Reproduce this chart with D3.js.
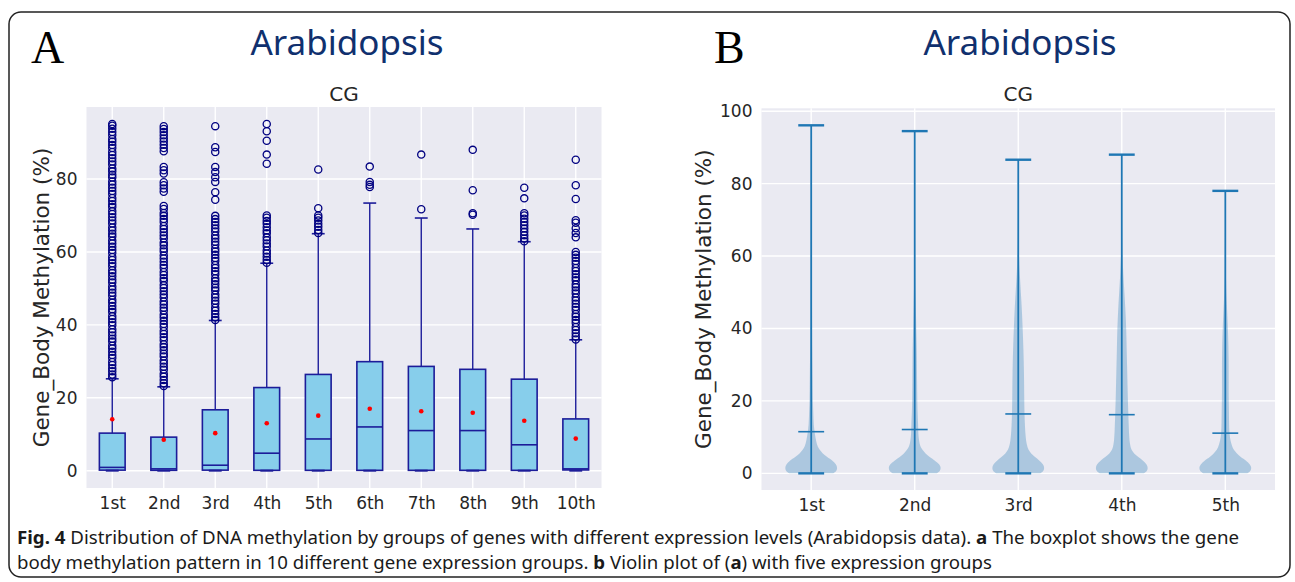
<!DOCTYPE html>
<html>
<head>
<meta charset="utf-8">
<script src="https://cdn.jsdelivr.net/npm/d3@7"></script>
<style>
  body { margin: 0; background: #fff; }
  svg { display: block; }
</style>
</head>
<body>
<div id="chart"></div>
<script>
// panel A: boxplot, 10 expression groups
const boxGroups = ["1st", "2nd", "3rd", "4th", "5th", "6th", "7th", "8th", "9th", "10th"];
const boxLow = [0, 0, 0, 0, 0, 0, 0, 0, 0, 0];
const boxQ1 = [0.15, 0.1, 0.15, 0.1, 0.1, 0.1, 0.1, 0.1, 0.1, 0.2];
const boxMedian = [0.9, 0.5, 1.5, 4.8, 8.7, 12.0, 11.0, 11.0, 7.1, 0.5];
const boxQ3 = [10.3, 9.2, 16.7, 22.8, 26.4, 29.9, 28.6, 27.8, 25.1, 14.2];
const boxHigh = [25.2, 23.0, 41.2, 56.9, 65.0, 73.4, 69.3, 66.3, 62.8, 35.9];
const boxMean = [14.1, 8.5, 10.3, 13.0, 15.1, 17.0, 16.3, 15.9, 13.7, 8.8];
const boxOutliers = [
  [25.6, 26.4, 27.3, 28.1, 29.0, 29.8, 30.9, 31.7, 32.6, 33.5, 34.3, 35.4, 36.2, 37.1, 38.0, 38.8,
   39.9, 40.7, 41.6, 42.4, 43.5, 44.3, 45.2, 46.1, 46.9, 48.0, 48.8, 49.7, 50.5, 51.6, 52.4, 53.3,
   54.2, 55.0, 56.1, 56.9, 57.8, 58.6, 59.7, 60.5, 61.4, 62.3, 63.1, 64.2, 65.0, 65.9, 66.7, 67.8,
   68.6, 69.5, 70.4, 71.2, 72.3, 73.1, 74.0, 74.8, 75.9, 76.7, 77.6, 78.5, 79.3, 80.4, 81.2, 82.1,
   82.9, 84.0, 84.8, 85.7, 86.6, 87.4, 88.5, 89.3, 90.2, 91.0, 92.1, 92.9, 93.8, 94.6, 95.1],
  [23.2, 24.0, 24.9, 25.8, 26.6, 27.7, 28.5, 29.4, 30.2, 31.3, 32.1, 33.0, 33.9, 34.7, 35.8, 36.6,
   37.5, 38.3, 39.4, 40.2, 41.1, 42.0, 42.8, 43.9, 44.7, 45.6, 46.4, 47.5, 48.3, 49.2, 50.1, 50.9,
   52.0, 52.8, 53.7, 54.5, 55.6, 56.4, 57.3, 58.2, 59.0, 60.1, 60.9, 61.8, 62.6, 63.7, 64.5, 65.4,
   66.3, 67.1, 68.2, 69.0, 69.9, 70.7, 71.8, 72.6, 76.5, 77.4, 78.3, 79.1, 81.5, 82.4, 83.3,
   87.6, 88.5, 89.4, 90.3, 91.1, 92.0, 92.9, 93.7, 94.5],
  [41.3, 42.1, 43.0, 43.9, 44.7, 45.8, 46.6, 47.5, 48.3, 49.4, 50.2, 51.1, 52.0, 52.8, 53.9, 54.7,
   55.6, 56.4, 57.5, 58.3, 59.2, 60.1, 60.9, 62.0, 62.8, 63.7, 64.5, 65.6, 66.4, 67.3, 68.2, 69.0,
   69.9, 74.3, 76.4, 79.2, 80.5, 81.9, 83.3, 87.4, 88.7, 94.5],
  [57.0, 57.8, 58.7, 59.6, 60.4, 61.5, 62.3, 63.2, 64.0, 65.1, 65.9, 66.8, 67.7, 68.5, 69.4, 70.0,
   84.2, 86.7, 90.5, 93.1, 95.1],
  [65.2, 66.0, 66.9, 67.7, 68.6, 69.4, 70.0, 72.0, 82.6],
  [77.8, 78.4, 79.2, 83.4],
  [71.7, 86.7],
  [70.2, 70.6, 76.9, 88.0],
  [62.9, 63.7, 64.6, 65.5, 66.4, 67.3, 68.2, 69.1, 70.0, 70.6, 74.7, 77.6],
  [36.0, 36.8, 37.7, 38.6, 39.4, 40.5, 41.3, 42.2, 43.0, 44.1, 44.9, 45.8, 46.7, 47.5, 48.6, 49.4,
   50.3, 51.1, 52.2, 53.0, 53.9, 54.8, 55.6, 56.7, 57.5, 58.4, 59.2, 60.0, 64.0, 65.2, 66.5, 68.0,
   68.7, 74.5, 78.3, 85.3]
];
const boxTicks = [0, 20, 40, 60, 80];

// panel B: violin plot, 5 expression groups
const violinGroups = ["1st", "2nd", "3rd", "4th", "5th"];
const violinMin = [0, 0, 0, 0, 0];
const violinMax = [96.1, 94.5, 86.6, 88.0, 78.0];
const violinMean = [11.5, 12.1, 16.4, 16.2, 11.1];
// [value, relative density]
const violinDensity = [
  [[0, 0.85], [0.7, 0.97], [1.5, 1.0], [2.5, 0.95], [3.5, 0.82], [4.5, 0.62], [5.5, 0.45], [6.5, 0.33],
   [7.5, 0.25], [9, 0.19], [11, 0.14], [13.5, 0.1], [17, 0.08], [20, 0.065], [26, 0.055], [35, 0.04],
   [50, 0.03], [70, 0.02], [90, 0.012], [96.1, 0.008]],
  [[0, 0.85], [0.7, 0.97], [1.5, 1.0], [2.5, 0.94], [3.5, 0.78], [4.5, 0.58], [5.5, 0.42], [6.5, 0.3],
   [7.5, 0.22], [9, 0.17], [11, 0.14], [13.5, 0.13], [17, 0.11], [20, 0.1], [26, 0.09], [34, 0.08],
   [40, 0.06], [47, 0.04], [55, 0.02], [70, 0.012], [94.5, 0.006]],
  [[0, 0.85], [0.7, 0.97], [1.5, 1.0], [2.5, 0.95], [3.5, 0.82], [4.5, 0.65], [5.5, 0.5], [6.5, 0.4],
   [8, 0.33], [10, 0.29], [13, 0.26], [17, 0.24], [22, 0.23], [28, 0.22], [34, 0.2], [40, 0.17],
   [45, 0.14], [50, 0.1], [55, 0.06], [60, 0.03], [70, 0.012], [86.6, 0.005]],
  [[0, 0.85], [0.7, 0.97], [1.5, 1.0], [2.5, 0.95], [3.5, 0.82], [4.5, 0.64], [5.5, 0.48], [6.5, 0.38],
   [8, 0.32], [10, 0.29], [13, 0.27], [17, 0.25], [22, 0.23], [28, 0.21], [34, 0.19], [40, 0.17],
   [45, 0.14], [50, 0.1], [55, 0.06], [60, 0.03], [70, 0.012], [88, 0.005]],
  [[0, 0.85], [0.7, 0.97], [1.5, 1.0], [2.5, 0.94], [3.5, 0.8], [4.5, 0.6], [5.5, 0.45], [6.5, 0.33],
   [8, 0.24], [10, 0.18], [12.5, 0.15], [17, 0.14], [22, 0.13], [28, 0.13], [35, 0.12], [40, 0.1],
   [45, 0.07], [50, 0.04], [58, 0.02], [70, 0.01], [78, 0.005]]
];
const violinTicks = [0, 20, 40, 60, 80, 100];

const W = 1295, H = 582;
const tickFont = "'DejaVu Sans', sans-serif";
const textGrey = "#262626";
const plotBg = "#eaeaf2";

const svg = d3.select("#chart").append("svg")
    .attr("width", W)
    .attr("height", H);

// outer frame
svg.append("rect")
    .attr("x", 9).attr("y", 12)
    .attr("width", 1281).attr("height", 565)
    .attr("rx", 12)
    .attr("fill", "none")
    .attr("stroke", "#222")
    .attr("stroke-width", 1.5);

function panelHeader(letter, lx, cx) {
  svg.append("text")
      .attr("x", lx).attr("y", 63)
      .attr("font-family", "'Liberation Serif', 'Times New Roman', serif")
      .attr("font-size", 46)
      .attr("fill", "#000")
      .text(letter);
  svg.append("text")
      .attr("x", cx).attr("y", 55)
      .attr("text-anchor", "middle")
      .attr("font-family", "'Noto Sans', 'Open Sans', sans-serif")
      .attr("font-size", 35)
      .attr("fill", "#10306e")
      .text("Arabidopsis");
}

function drawFrame(g, x, y, xTicks, xLabels, yTicks, titleX) {
  const [x0, x1] = x.range();
  const [y0, y1] = y.range();

  g.append("rect")
      .attr("x", x0).attr("y", y1)
      .attr("width", x1 - x0).attr("height", y0 - y1)
      .attr("fill", plotBg);

  g.append("g")
    .selectAll("line")
    .data(yTicks)
    .join("line")
      .attr("x1", x0).attr("x2", x1)
      .attr("y1", d => y(d)).attr("y2", d => y(d))
      .attr("stroke", "#fff")
      .attr("stroke-width", 1.4);

  g.append("g")
    .selectAll("line")
    .data(xTicks)
    .join("line")
      .attr("x1", d => x(d)).attr("x2", d => x(d))
      .attr("y1", y0).attr("y2", y1)
      .attr("stroke", "#fff")
      .attr("stroke-width", 1.4);

  const yAxis = g.append("g")
      .attr("transform", `translate(${x0},0)`)
      .call(d3.axisLeft(y).tickValues(yTicks).tickSize(0).tickPadding(9));
  const xAxis = g.append("g")
      .attr("transform", `translate(0,${y0})`)
      .call(d3.axisBottom(x).tickValues(xTicks).tickFormat((d, i) => xLabels[i]).tickSize(0).tickPadding(9));

  [yAxis, xAxis].forEach(a => {
    a.select(".domain").remove();
    a.selectAll("text")
        .attr("font-family", tickFont)
        .attr("font-size", 17)
        .attr("fill", textGrey);
  });

  g.append("text")
      .attr("transform", `translate(${titleX},${(y0 + y1) / 2}) rotate(-90)`)
      .attr("text-anchor", "middle")
      .attr("dy", "0.35em")
      .attr("font-family", tickFont)
      .attr("font-size", 21.5)
      .attr("fill", textGrey)
      .text("Gene_Body Methylation (%)");

  g.append("text")
      .attr("x", (x0 + x1) / 2).attr("y", 101)
      .attr("text-anchor", "middle")
      .attr("font-family", tickFont)
      .attr("font-size", 20)
      .attr("fill", textGrey)
      .text("CG");
}

// ---------- panel A ----------
panelHeader("A", 31, 347);

const xA = d3.scaleLinear().domain([0.5, 10.5]).range([86.5, 601.5]);
const yA = d3.scaleLinear().domain([-4.75, 99.75]).range([488, 107]);
const gA = svg.append("g");
const posA = boxGroups.map((d, i) => i + 1);
drawFrame(gA, xA, yA, posA, boxGroups, boxTicks, 41.5);

const boxEdge = "#1c1c99";
const boxHalf = 0.25, capHalf = 0.125;
const boxes = gA.append("g")
  .selectAll("g")
  .data(boxGroups.map((name, i) => ({
    pos: i + 1, low: boxLow[i], q1: boxQ1[i], med: boxMedian[i], q3: boxQ3[i],
    high: boxHigh[i], mean: boxMean[i], out: boxOutliers[i]
  })))
  .join("g");

// whiskers
boxes.append("line")
    .attr("x1", d => xA(d.pos)).attr("x2", d => xA(d.pos))
    .attr("y1", d => yA(d.q3)).attr("y2", d => yA(d.high))
    .attr("stroke", boxEdge).attr("stroke-width", 1.4);
boxes.append("line")
    .attr("x1", d => xA(d.pos - capHalf)).attr("x2", d => xA(d.pos + capHalf))
    .attr("y1", d => yA(d.high)).attr("y2", d => yA(d.high))
    .attr("stroke", boxEdge).attr("stroke-width", 1.6);

boxes.append("rect")
    .attr("x", d => xA(d.pos - boxHalf))
    .attr("width", d => xA(d.pos + boxHalf) - xA(d.pos - boxHalf))
    .attr("y", d => yA(d.q3))
    .attr("height", d => yA(d.q1) - yA(d.q3))
    .attr("fill", "#87ceeb")
    .attr("stroke", boxEdge)
    .attr("stroke-width", 1.6);

boxes.append("line")
    .attr("x1", d => xA(d.pos - capHalf)).attr("x2", d => xA(d.pos + capHalf))
    .attr("y1", d => yA(d.low)).attr("y2", d => yA(d.low))
    .attr("stroke", boxEdge).attr("stroke-width", 2);

boxes.append("line")
    .attr("x1", d => xA(d.pos - boxHalf)).attr("x2", d => xA(d.pos + boxHalf))
    .attr("y1", d => yA(d.med)).attr("y2", d => yA(d.med))
    .attr("stroke", boxEdge).attr("stroke-width", 1.6);

boxes.append("circle")
    .attr("cx", d => xA(d.pos))
    .attr("cy", d => yA(d.mean))
    .attr("r", 2.3)
    .attr("fill", "#ff0000");

boxes.each(function(d) {
  d3.select(this).selectAll(".out")
    .data(d.out)
    .join("circle")
      .attr("class", "out")
      .attr("cx", xA(d.pos))
      .attr("cy", v => yA(v))
      .attr("r", 3.6)
      .attr("fill", "none")
      .attr("stroke", "#000080")
      .attr("stroke-width", 1.3);
});

// ---------- panel B ----------
panelHeader("B", 714, 1020);

const xB = d3.scaleLinear().domain([0.52, 5.48]).range([761.5, 1275]);
const yB = d3.scaleLinear().domain([-4.6, 100.8]).range([490, 108.3]);
const gB = svg.append("g");
const posB = violinGroups.map((d, i) => i + 1);
drawFrame(gB, xB, yB, posB, violinGroups, violinTicks, 703.5);

const violinBlue = "#1f77b4";
const halfWidth = 0.25;

const violins = gB.append("g")
  .selectAll("g")
  .data(violinGroups.map((name, i) => ({
    pos: i + 1, min: violinMin[i], max: violinMax[i], mean: violinMean[i], dens: violinDensity[i]
  })))
  .join("g");

violins.append("path")
    .attr("d", d => d3.area()
        .curve(d3.curveMonotoneY)
        .y(p => yB(p[0]))
        .x0(p => xB(d.pos - halfWidth * p[1]))
        .x1(p => xB(d.pos + halfWidth * p[1]))(d.dens))
    .attr("fill", violinBlue)
    .attr("fill-opacity", 0.3);

violins.append("line")
    .attr("x1", d => xB(d.pos)).attr("x2", d => xB(d.pos))
    .attr("y1", d => yB(d.min)).attr("y2", d => yB(d.max))
    .attr("stroke", violinBlue).attr("stroke-width", 1.8);

[["max", 2.4], ["min", 2.4], ["mean", 1.6]].forEach(([k, sw]) => {
  violins.append("line")
      .attr("x1", d => xB(d.pos - 0.125)).attr("x2", d => xB(d.pos + 0.125))
      .attr("y1", d => yB(d[k])).attr("y2", d => yB(d[k]))
      .attr("stroke", violinBlue).attr("stroke-width", sw);
});

// ---------- caption ----------
const capFont = "'Noto Sans', 'Open Sans', sans-serif";
const cap1 = svg.append("text")
    .attr("x", 17).attr("y", 544)
    .attr("font-family", capFont)
    .attr("font-size", 17.5)
    .attr("fill", "#1a1a1a")
    .attr("textLength", 1222)
    .attr("lengthAdjust", "spacingAndGlyphs");
cap1.append("tspan").attr("font-weight", "bold").text("Fig. 4");
cap1.append("tspan").text(" Distribution of DNA methylation by groups of genes with different expression levels (Arabidopsis data). ");
cap1.append("tspan").attr("font-weight", "bold").text("a");
cap1.append("tspan").text(" The boxplot shows the gene");

const cap2 = svg.append("text")
    .attr("x", 17).attr("y", 569)
    .attr("font-family", capFont)
    .attr("font-size", 17.5)
    .attr("fill", "#1a1a1a")
    .attr("textLength", 975)
    .attr("lengthAdjust", "spacingAndGlyphs");
cap2.append("tspan").text("body methylation pattern in 10 different gene expression groups. ");
cap2.append("tspan").attr("font-weight", "bold").text("b");
cap2.append("tspan").text(" Violin plot of (");
cap2.append("tspan").attr("font-weight", "bold").text("a");
cap2.append("tspan").text(") with five expression groups");
</script>
</body>
</html>
